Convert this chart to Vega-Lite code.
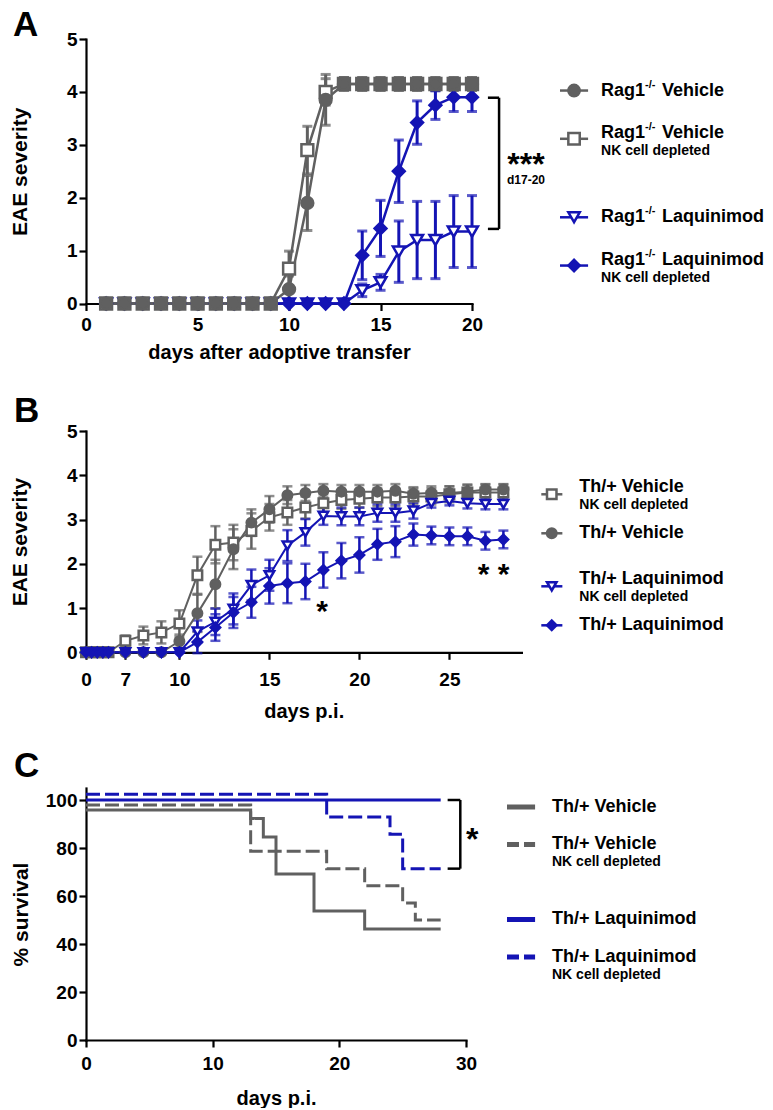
{
"$schema":"https://vega.github.io/schema/vega-lite/v6.json",
"autosize":{"type":"pad"},
"padding":{"left":9,"top":7,"right":5,"bottom":0},
"background":"white",
"config":{
 "font":"Liberation Sans",
 "view":{"stroke":null},
 "axis":{"grid":false,"domainColor":"#000","domainWidth":2.2,"domainCap":"square","tickColor":"#000","tickWidth":2.2,"tickSize":7,"labelFont":"Liberation Sans","labelFontSize":19,"labelFontWeight":"bold","labelColor":"#000","labelPadding":2,"labelFlush":false,"labelOverlap":false,"titleFont":"Liberation Sans","titleFontSize":20,"titleFontWeight":"bold","titleColor":"#000"},
 "axisY":{"titleFontSize":21},
 "title":{"font":"Liberation Sans","fontSize":35,"fontWeight":"bold","color":"#000","anchor":"start","frame":"group","baseline":"alphabetic","offset":0}
},
"datasets":{
 "a":[
  {"s":"laq","d":0,"v":0,"e":0},{"s":"laq","d":1,"v":0,"e":0},{"s":"laq","d":2,"v":0,"e":0},{"s":"laq","d":3,"v":0,"e":0},{"s":"laq","d":4,"v":0,"e":0},{"s":"laq","d":5,"v":0,"e":0},{"s":"laq","d":6,"v":0,"e":0},{"s":"laq","d":7,"v":0,"e":0},{"s":"laq","d":8,"v":0,"e":0},{"s":"laq","d":9,"v":0,"e":0},{"s":"laq","d":10,"v":0,"e":0},{"s":"laq","d":11,"v":0,"e":0},{"s":"laq","d":12,"v":0,"e":0},{"s":"laq","d":13,"v":0,"e":0},
  {"s":"laq","d":14,"v":0.25,"e":0.12},{"s":"laq","d":15,"v":0.4,"e":0.15},{"s":"laq","d":16,"v":0.98,"e":0.58},{"s":"laq","d":17,"v":1.2,"e":0.73},{"s":"laq","d":18,"v":1.2,"e":0.73},{"s":"laq","d":19,"v":1.36,"e":0.68},{"s":"laq","d":20,"v":1.36,"e":0.68},
  {"s":"laqnk","d":0,"v":0,"e":0},{"s":"laqnk","d":1,"v":0,"e":0},{"s":"laqnk","d":2,"v":0,"e":0},{"s":"laqnk","d":3,"v":0,"e":0},{"s":"laqnk","d":4,"v":0,"e":0},{"s":"laqnk","d":5,"v":0,"e":0},{"s":"laqnk","d":6,"v":0,"e":0},{"s":"laqnk","d":7,"v":0,"e":0},{"s":"laqnk","d":8,"v":0,"e":0},{"s":"laqnk","d":9,"v":0,"e":0},{"s":"laqnk","d":10,"v":0,"e":0},{"s":"laqnk","d":11,"v":0,"e":0},{"s":"laqnk","d":12,"v":0,"e":0},{"s":"laqnk","d":13,"v":0,"e":0},
  {"s":"laqnk","d":14,"v":0.91,"e":0.46},{"s":"laqnk","d":15,"v":1.42,"e":0.53},{"s":"laqnk","d":16,"v":2.5,"e":0.59},{"s":"laqnk","d":17,"v":3.42,"e":0.41},{"s":"laqnk","d":18,"v":3.75,"e":0.27},{"s":"laqnk","d":19,"v":3.9,"e":0.27},{"s":"laqnk","d":20,"v":3.9,"e":0.27},
  {"s":"vehnk","d":0,"v":0,"e":0},{"s":"vehnk","d":1,"v":0,"e":0},{"s":"vehnk","d":2,"v":0,"e":0},{"s":"vehnk","d":3,"v":0,"e":0},{"s":"vehnk","d":4,"v":0,"e":0},{"s":"vehnk","d":5,"v":0,"e":0},{"s":"vehnk","d":6,"v":0,"e":0},{"s":"vehnk","d":7,"v":0,"e":0},{"s":"vehnk","d":8,"v":0,"e":0},{"s":"vehnk","d":9,"v":0,"e":0},
  {"s":"vehnk","d":10,"v":0.66,"e":0.33},{"s":"vehnk","d":11,"v":2.9,"e":0.45},{"s":"vehnk","d":12,"v":4.0,"e":0.25},{"s":"vehnk","d":13,"v":4.15,"e":0.12},{"s":"vehnk","d":14,"v":4.15,"e":0.12},{"s":"vehnk","d":15,"v":4.15,"e":0.12},{"s":"vehnk","d":16,"v":4.15,"e":0.12},{"s":"vehnk","d":17,"v":4.15,"e":0.12},{"s":"vehnk","d":18,"v":4.15,"e":0.12},{"s":"vehnk","d":19,"v":4.15,"e":0.12},{"s":"vehnk","d":20,"v":4.15,"e":0.12},
  {"s":"veh","d":0,"v":0,"e":0},{"s":"veh","d":1,"v":0,"e":0},{"s":"veh","d":2,"v":0,"e":0},{"s":"veh","d":3,"v":0,"e":0},{"s":"veh","d":4,"v":0,"e":0},{"s":"veh","d":5,"v":0,"e":0},{"s":"veh","d":6,"v":0,"e":0},{"s":"veh","d":7,"v":0,"e":0},{"s":"veh","d":8,"v":0,"e":0},{"s":"veh","d":9,"v":0,"e":0},
  {"s":"veh","d":10,"v":0.27,"e":0.25},{"s":"veh","d":11,"v":1.9,"e":0.52},{"s":"veh","d":12,"v":3.85,"e":0.48},{"s":"veh","d":13,"v":4.15,"e":0.12},{"s":"veh","d":14,"v":4.15,"e":0.12},{"s":"veh","d":15,"v":4.15,"e":0.12},{"s":"veh","d":16,"v":4.15,"e":0.12},{"s":"veh","d":17,"v":4.15,"e":0.12},{"s":"veh","d":18,"v":4.15,"e":0.12},{"s":"veh","d":19,"v":4.15,"e":0.12},{"s":"veh","d":20,"v":4.15,"e":0.12}
 ],
 "b":[
  {"s":"vehnk","d":0,"v":0,"e":0},{"s":"vehnk","d":1,"v":0,"e":0},{"s":"vehnk","d":2,"v":0,"e":0},{"s":"vehnk","d":3,"v":0,"e":0},{"s":"vehnk","d":4,"v":0,"e":0},
  {"s":"vehnk","d":7,"v":0.26,"e":0.12},{"s":"vehnk","d":8,"v":0.38,"e":0.2},{"s":"vehnk","d":9,"v":0.45,"e":0.25},{"s":"vehnk","d":10,"v":0.65,"e":0.3},{"s":"vehnk","d":11,"v":1.74,"e":0.42},{"s":"vehnk","d":12,"v":2.43,"e":0.42},{"s":"vehnk","d":13,"v":2.48,"e":0.4},{"s":"vehnk","d":14,"v":2.74,"e":0.4},{"s":"vehnk","d":15,"v":3.05,"e":0.3},{"s":"vehnk","d":16,"v":3.16,"e":0.28},{"s":"vehnk","d":17,"v":3.27,"e":0.25},{"s":"vehnk","d":18,"v":3.37,"e":0.2},{"s":"vehnk","d":19,"v":3.44,"e":0.2},{"s":"vehnk","d":20,"v":3.47,"e":0.2},{"s":"vehnk","d":21,"v":3.5,"e":0.2},{"s":"vehnk","d":22,"v":3.5,"e":0.2},{"s":"vehnk","d":23,"v":3.52,"e":0.18},{"s":"vehnk","d":24,"v":3.52,"e":0.18},{"s":"vehnk","d":25,"v":3.57,"e":0.18},{"s":"vehnk","d":26,"v":3.61,"e":0.18},{"s":"vehnk","d":27,"v":3.61,"e":0.18},{"s":"vehnk","d":28,"v":3.61,"e":0.18},
  {"s":"veh","d":0,"v":0,"e":0},{"s":"veh","d":1,"v":0,"e":0},{"s":"veh","d":2,"v":0,"e":0},{"s":"veh","d":3,"v":0,"e":0},{"s":"veh","d":4,"v":0,"e":0},
  {"s":"veh","d":7,"v":0,"e":0},{"s":"veh","d":8,"v":0,"e":0},{"s":"veh","d":9,"v":0,"e":0},{"s":"veh","d":10,"v":0.25,"e":0.15},{"s":"veh","d":11,"v":0.88,"e":0.42},{"s":"veh","d":12,"v":1.54,"e":0.55},{"s":"veh","d":13,"v":2.33,"e":0.45},{"s":"veh","d":14,"v":2.93,"e":0.3},{"s":"veh","d":15,"v":3.23,"e":0.3},{"s":"veh","d":16,"v":3.55,"e":0.2},{"s":"veh","d":17,"v":3.6,"e":0.18},{"s":"veh","d":18,"v":3.65,"e":0.15},{"s":"veh","d":19,"v":3.63,"e":0.15},{"s":"veh","d":20,"v":3.63,"e":0.15},{"s":"veh","d":21,"v":3.63,"e":0.15},{"s":"veh","d":22,"v":3.65,"e":0.15},{"s":"veh","d":23,"v":3.58,"e":0.15},{"s":"veh","d":24,"v":3.6,"e":0.15},{"s":"veh","d":25,"v":3.6,"e":0.15},{"s":"veh","d":26,"v":3.63,"e":0.15},{"s":"veh","d":27,"v":3.68,"e":0.12},{"s":"veh","d":28,"v":3.68,"e":0.12},
  {"s":"laqnk","d":0,"v":0,"e":0},{"s":"laqnk","d":1,"v":0,"e":0},{"s":"laqnk","d":2,"v":0,"e":0},{"s":"laqnk","d":3,"v":0,"e":0},{"s":"laqnk","d":4,"v":0,"e":0},
  {"s":"laqnk","d":7,"v":0,"e":0},{"s":"laqnk","d":8,"v":0,"e":0},{"s":"laqnk","d":9,"v":0,"e":0},{"s":"laqnk","d":10,"v":0,"e":0},{"s":"laqnk","d":11,"v":0.47,"e":0.25},{"s":"laqnk","d":12,"v":0.69,"e":0.3},{"s":"laqnk","d":13,"v":0.98,"e":0.35},{"s":"laqnk","d":14,"v":1.52,"e":0.35},{"s":"laqnk","d":15,"v":1.74,"e":0.35},{"s":"laqnk","d":16,"v":2.41,"e":0.35},{"s":"laqnk","d":17,"v":2.71,"e":0.3},{"s":"laqnk","d":18,"v":3.08,"e":0.2},{"s":"laqnk","d":19,"v":3.07,"e":0.2},{"s":"laqnk","d":20,"v":3.07,"e":0.2},{"s":"laqnk","d":21,"v":3.15,"e":0.2},{"s":"laqnk","d":22,"v":3.15,"e":0.2},{"s":"laqnk","d":23,"v":3.2,"e":0.18},{"s":"laqnk","d":24,"v":3.37,"e":0.1},{"s":"laqnk","d":25,"v":3.42,"e":0.1},{"s":"laqnk","d":26,"v":3.37,"e":0.12},{"s":"laqnk","d":27,"v":3.35,"e":0.12},{"s":"laqnk","d":28,"v":3.35,"e":0.12},
  {"s":"laq","d":0,"v":0,"e":0},{"s":"laq","d":1,"v":0,"e":0},{"s":"laq","d":2,"v":0,"e":0},{"s":"laq","d":3,"v":0,"e":0},{"s":"laq","d":4,"v":0,"e":0},
  {"s":"laq","d":7,"v":0,"e":0},{"s":"laq","d":8,"v":0,"e":0},{"s":"laq","d":9,"v":0,"e":0},{"s":"laq","d":10,"v":0,"e":0},{"s":"laq","d":11,"v":0.23,"e":0.25},{"s":"laq","d":12,"v":0.56,"e":0.3},{"s":"laq","d":13,"v":0.9,"e":0.35},{"s":"laq","d":14,"v":1.13,"e":0.35},{"s":"laq","d":15,"v":1.5,"e":0.4},{"s":"laq","d":16,"v":1.56,"e":0.45},{"s":"laq","d":17,"v":1.6,"e":0.4},{"s":"laq","d":18,"v":1.86,"e":0.4},{"s":"laq","d":19,"v":2.07,"e":0.4},{"s":"laq","d":20,"v":2.2,"e":0.4},{"s":"laq","d":21,"v":2.44,"e":0.35},{"s":"laq","d":22,"v":2.5,"e":0.35},{"s":"laq","d":23,"v":2.66,"e":0.25},{"s":"laq","d":24,"v":2.64,"e":0.2},{"s":"laq","d":25,"v":2.62,"e":0.2},{"s":"laq","d":26,"v":2.62,"e":0.2},{"s":"laq","d":27,"v":2.52,"e":0.2},{"s":"laq","d":28,"v":2.55,"e":0.2}
 ],
 "c":[
  {"s":"veh","d":0,"v":95.8},{"s":"veh","d":13,"v":92.3},{"s":"veh","d":14,"v":84.6},{"s":"veh","d":15,"v":69.2},{"s":"veh","d":18,"v":53.8},{"s":"veh","d":22,"v":46.2},{"s":"veh","d":28,"v":46.2},
  {"s":"vehnk","d":0,"v":97.9},{"s":"vehnk","d":13,"v":78.6},{"s":"vehnk","d":19,"v":71.4},{"s":"vehnk","d":22,"v":64.3},{"s":"vehnk","d":25,"v":57.1},{"s":"vehnk","d":26,"v":50},{"s":"vehnk","d":28,"v":50},
  {"s":"laq","d":0,"v":100},{"s":"laq","d":28,"v":100},
  {"s":"laqnk","d":0,"v":102.4},{"s":"laqnk","d":19,"v":92.9},{"s":"laqnk","d":24,"v":85.7},{"s":"laqnk","d":25,"v":71.4},{"s":"laqnk","d":28,"v":71.4}
 ],
 "legA":[{"s":"veh","main":"Vehicle","sub":""},{"s":"vehnk","main":"Vehicle","sub":"NK cell depleted"},{"s":"laq","main":"Laquinimod","sub":""},{"s":"laqnk","main":"Laquinimod","sub":"NK cell depleted"}],
 "legB":[{"s":"vehnk","main":"Th/+ Vehicle","sub":"NK cell depleted"},{"s":"veh","main":"Th/+ Vehicle","sub":""},{"s":"laqnk","main":"Th/+ Laquinimod","sub":"NK cell depleted"},{"s":"laq","main":"Th/+ Laquinimod","sub":""}],
 "legC":[{"s":"veh","main":"Th/+ Vehicle","sub":""},{"s":"vehnk","main":"Th/+ Vehicle","sub":"NK cell depleted"},{"s":"laq","main":"Th/+ Laquinimod","sub":""},{"s":"laqnk","main":"Th/+ Laquinimod","sub":"NK cell depleted"}]
},
"resolve":{"scale":{"x":"independent","y":"independent","color":"independent","fill":"independent","stroke":"independent","shape":"independent","strokeDash":"independent"}},
"spacing":31,
"vconcat":[
 {"bounds":"flush","spacing":88,
  "resolve":{"scale":{"x":"independent","y":"independent","color":"independent","fill":"independent","stroke":"independent","shape":"independent","strokeDash":"independent"}},
  "hconcat":[
   {"title":{"text":"A","dx":-73,"dy":16.5},
    "width":386,"height":264.5,
    "layer":[
     {"data":{"name":"a"},"transform":[{"filter":"datum.e > 0"}],
      "mark":{"type":"errorbar","ticks":{"size":10,"thickness":3},"thickness":3},
      "encoding":{
       "x":{"field":"d","type":"quantitative","scale":{"domain":[-1.1,20],"nice":false,"zero":false},"axis":{"values":[-1.1,5,10,15,20],"labelExpr":"datum.value < 0 ? '0' : datum.label","title":"days after adoptive transfer","labelPadding":5,"titlePadding":8}},
       "y":{"field":"v","type":"quantitative","scale":{"domain":[0,5],"nice":false},"axis":{"values":[0,1,2,3,4,5],"title":"EAE severity","titlePadding":36}},
       "yError":{"field":"e"},
       "color":{"field":"s","type":"nominal","scale":{"domain":["veh","vehnk","laq","laqnk"],"range":["#606060","#606060","#1414b4","#1414b4"]},"legend":null}}},
     {"data":{"name":"a"},"mark":{"type":"line","strokeWidth":2.5},
      "encoding":{"x":{"field":"d","type":"quantitative"},"y":{"field":"v","type":"quantitative"},
       "color":{"field":"s","type":"nominal","scale":{"domain":["veh","vehnk","laq","laqnk"],"range":["#606060","#606060","#1414b4","#1414b4"]},"legend":null}}},
     {"data":{"name":"a"},"mark":{"type":"point","opacity":1,"fillOpacity":1,"strokeWidth":2.5,"size":140},
      "encoding":{"x":{"field":"d","type":"quantitative"},"y":{"field":"v","type":"quantitative"},
       "shape":{"field":"s","type":"nominal","scale":{"domain":["veh","vehnk","laq","laqnk"],"range":["circle","square","triangle-down","diamond"]},"legend":null},
       "fill":{"field":"s","type":"nominal","scale":{"domain":["veh","vehnk","laq","laqnk"],"range":["#606060","#ffffff","#ffffff","#1414b4"]},"legend":null},
       "stroke":{"field":"s","type":"nominal","scale":{"domain":["veh","vehnk","laq","laqnk"],"range":["#606060","#606060","#1414b4","#1414b4"]},"legend":null}}},
     {"data":{"values":[{}]},"mark":{"type":"rule","strokeWidth":2.5,"color":"#000"},
      "encoding":{"x":{"datum":21.48,"type":"quantitative"},"y":{"datum":1.41,"type":"quantitative"},"y2":{"datum":3.89}}},
     {"data":{"values":[{}]},"mark":{"type":"rule","strokeWidth":2.5,"color":"#000"},
      "encoding":{"x":{"datum":20.87,"type":"quantitative"},"x2":{"datum":21.48},"y":{"datum":3.89,"type":"quantitative"}}},
     {"data":{"values":[{}]},"mark":{"type":"rule","strokeWidth":2.5,"color":"#000"},
      "encoding":{"x":{"datum":20.87,"type":"quantitative"},"x2":{"datum":21.48},"y":{"datum":1.41,"type":"quantitative"}}},
     {"data":{"values":[{}]},"mark":{"type":"text","text":"***","font":"Liberation Sans","fontSize":32,"fontWeight":"bold","color":"#000","baseline":"middle","dy":8},
      "encoding":{"x":{"datum":22.95,"type":"quantitative"},"y":{"datum":2.76,"type":"quantitative"}}},
     {"data":{"values":[{}]},"mark":{"type":"text","text":"d17-20","font":"Liberation Sans","fontSize":12,"fontWeight":"bold","color":"#000","baseline":"middle"},
      "encoding":{"x":{"datum":22.95,"type":"quantitative"},"y":{"datum":2.33,"type":"quantitative"}}}
    ]},
   {"width":180,"height":253.5,"data":{"name":"legA"},
    "layer":[
     {"transform":[{"filter":"datum.sub == ''"}],"mark":{"type":"rule","strokeWidth":2.5},
      "encoding":{"x":{"datum":0,"type":"quantitative","scale":{"domain":[0,10],"nice":false},"axis":null},"x2":{"datum":1.56},
       "y":{"field":"s","type":"nominal","scale":{"type":"point","domain":["veh","vehnk","gap","laq","laqnk"],"padding":1,"align":0.61},"axis":null},
       "color":{"field":"s","type":"nominal","scale":{"domain":["veh","vehnk","laq","laqnk"],"range":["#606060","#606060","#1414b4","#1414b4"]},"legend":null}}},
     {"transform":[{"filter":"datum.sub != ''"}],"mark":{"type":"rule","strokeWidth":2.5,"yOffset":6},
      "encoding":{"x":{"datum":0,"type":"quantitative"},"x2":{"datum":1.56},"y":{"field":"s","type":"nominal"},
       "color":{"field":"s","type":"nominal","legend":null}}},
     {"transform":[{"filter":"datum.sub == ''"}],"mark":{"type":"point","opacity":1,"fillOpacity":1,"strokeWidth":2.5,"size":130},
      "encoding":{"x":{"datum":0.78,"type":"quantitative"},"y":{"field":"s","type":"nominal"},
       "shape":{"field":"s","type":"nominal","scale":{"domain":["veh","vehnk","laq","laqnk"],"range":["circle","square","triangle-down","diamond"]},"legend":null},
       "fill":{"field":"s","type":"nominal","scale":{"domain":["veh","vehnk","laq","laqnk"],"range":["#606060","#ffffff","#ffffff","#1414b4"]},"legend":null},
       "stroke":{"field":"s","type":"nominal","scale":{"domain":["veh","vehnk","laq","laqnk"],"range":["#606060","#606060","#1414b4","#1414b4"]},"legend":null}}},
     {"transform":[{"filter":"datum.sub != ''"}],"mark":{"type":"point","opacity":1,"fillOpacity":1,"strokeWidth":2.5,"size":130,"yOffset":6},
      "encoding":{"x":{"datum":0.78,"type":"quantitative"},"y":{"field":"s","type":"nominal"},
       "shape":{"field":"s","type":"nominal","legend":null},"fill":{"field":"s","type":"nominal","legend":null},"stroke":{"field":"s","type":"nominal","legend":null}}},
     {"mark":{"type":"text","align":"left","baseline":"middle","font":"Liberation Sans","fontSize":18,"fontWeight":"bold","color":"#000"},
      "encoding":{"x":{"datum":2.28,"type":"quantitative"},"y":{"field":"s","type":"nominal"},"text":{"value":"Rag1"}}},
     {"mark":{"type":"text","align":"left","baseline":"middle","font":"Liberation Sans","fontSize":11,"fontWeight":"bold","color":"#000","dx":44,"dy":-6},
      "encoding":{"x":{"datum":2.28,"type":"quantitative"},"y":{"field":"s","type":"nominal"},"text":{"value":"-/-"}}},
     {"mark":{"type":"text","align":"left","baseline":"middle","font":"Liberation Sans","fontSize":18,"fontWeight":"bold","color":"#000","dx":61},
      "encoding":{"x":{"datum":2.28,"type":"quantitative"},"y":{"field":"s","type":"nominal"},"text":{"field":"main"}}},
     {"transform":[{"filter":"datum.sub != ''"}],"mark":{"type":"text","align":"left","baseline":"middle","font":"Liberation Sans","fontSize":14,"fontWeight":"bold","color":"#000","dy":18},
      "encoding":{"x":{"datum":2.28,"type":"quantitative"},"y":{"field":"s","type":"nominal"},"text":{"field":"sub"}}}
    ]}
  ]},
 {"spacing":27,
  "resolve":{"scale":{"x":"independent","y":"independent","color":"independent","fill":"independent","stroke":"independent","shape":"independent","strokeDash":"independent"}},
  "vconcat":[
   {"bounds":"flush","spacing":19.3,
    "resolve":{"scale":{"x":"independent","y":"independent","color":"independent","fill":"independent","stroke":"independent","shape":"independent","strokeDash":"independent"}},
    "hconcat":[
     {"title":{"text":"B","dx":-72,"dy":11.3},
      "width":435.4,"height":221.3,
      "layer":[
       {"data":{"name":"b"},"transform":[{"filter":"datum.e > 0"}],
        "mark":{"type":"errorbar","ticks":{"size":10,"thickness":2.5},"thickness":2.5},
        "encoding":{
         "x":{"field":"d","type":"quantitative","scale":{"domain":[0,7,29],"range":[0,39.4,435.4],"nice":false,"zero":false},"axis":{"values":[0,7,10,15,20,25],"title":"days p.i.","labelPadding":11,"titlePadding":12}},
         "y":{"field":"v","type":"quantitative","scale":{"domain":[0,5],"nice":false},"axis":{"values":[0,1,2,3,4,5],"title":"EAE severity","titlePadding":36}},
         "yError":{"field":"e"},
         "color":{"field":"s","type":"nominal","scale":{"domain":["vehnk","veh","laqnk","laq"],"range":["#606060","#606060","#1414b4","#1414b4"]},"legend":null}}},
       {"data":{"name":"b"},"mark":{"type":"line","strokeWidth":2},
        "encoding":{"x":{"field":"d","type":"quantitative"},"y":{"field":"v","type":"quantitative"},
         "color":{"field":"s","type":"nominal","scale":{"domain":["vehnk","veh","laqnk","laq"],"range":["#606060","#606060","#1414b4","#1414b4"]},"legend":null}}},
       {"data":{"name":"b"},"mark":{"type":"point","opacity":1,"fillOpacity":1,"strokeWidth":2.5,"size":90},
        "encoding":{"x":{"field":"d","type":"quantitative"},"y":{"field":"v","type":"quantitative"},
         "shape":{"field":"s","type":"nominal","scale":{"domain":["vehnk","veh","laqnk","laq"],"range":["square","circle","triangle-down","diamond"]},"legend":null},
         "fill":{"field":"s","type":"nominal","scale":{"domain":["vehnk","veh","laqnk","laq"],"range":["#ffffff","#606060","#ffffff","#1414b4"]},"legend":null},
         "stroke":{"field":"s","type":"nominal","scale":{"domain":["vehnk","veh","laqnk","laq"],"range":["#606060","#606060","#1414b4","#1414b4"]},"legend":null}}},
       {"data":{"values":[{}]},"mark":{"type":"text","text":"*","font":"Liberation Sans","fontSize":30,"fontWeight":"bold","color":"#000","baseline":"middle","dy":8},
        "encoding":{"x":{"datum":17.93,"type":"quantitative"},"y":{"datum":1.09,"type":"quantitative"}}},
       {"data":{"values":[{}]},"mark":{"type":"text","text":"* *","font":"Liberation Sans","fontSize":30,"fontWeight":"bold","color":"#000","baseline":"middle","dy":8},
        "encoding":{"x":{"datum":27.45,"type":"quantitative"},"y":{"datum":1.92,"type":"quantitative"}}}
      ]},
     {"width":180,"height":221.3,"data":{"name":"legB"},
      "layer":[
       {"transform":[{"filter":"datum.sub == ''"}],"mark":{"type":"rule","strokeWidth":2.5},
        "encoding":{"x":{"datum":0,"type":"quantitative","scale":{"domain":[0,10],"nice":false},"axis":null},"x2":{"datum":1.17},
         "y":{"field":"s","type":"nominal","scale":{"type":"point","domain":["vehnk","veh","laqnk","laq"],"padding":0.905,"align":0.676},"axis":null},
         "color":{"field":"s","type":"nominal","scale":{"domain":["vehnk","veh","laqnk","laq"],"range":["#606060","#606060","#1414b4","#1414b4"]},"legend":null}}},
       {"transform":[{"filter":"datum.sub != ''"}],"mark":{"type":"rule","strokeWidth":2.5,"yOffset":7},
        "encoding":{"x":{"datum":0,"type":"quantitative"},"x2":{"datum":1.17},"y":{"field":"s","type":"nominal"},"color":{"field":"s","type":"nominal","legend":null}}},
       {"transform":[{"filter":"datum.sub == ''"}],"mark":{"type":"point","opacity":1,"fillOpacity":1,"strokeWidth":2.5,"size":90},
        "encoding":{"x":{"datum":0.58,"type":"quantitative"},"y":{"field":"s","type":"nominal"},
         "shape":{"field":"s","type":"nominal","scale":{"domain":["vehnk","veh","laqnk","laq"],"range":["square","circle","triangle-down","diamond"]},"legend":null},
         "fill":{"field":"s","type":"nominal","scale":{"domain":["vehnk","veh","laqnk","laq"],"range":["#ffffff","#606060","#ffffff","#1414b4"]},"legend":null},
         "stroke":{"field":"s","type":"nominal","scale":{"domain":["vehnk","veh","laqnk","laq"],"range":["#606060","#606060","#1414b4","#1414b4"]},"legend":null}}},
       {"transform":[{"filter":"datum.sub != ''"}],"mark":{"type":"point","opacity":1,"fillOpacity":1,"strokeWidth":2.5,"size":90,"yOffset":7},
        "encoding":{"x":{"datum":0.58,"type":"quantitative"},"y":{"field":"s","type":"nominal"},
         "shape":{"field":"s","type":"nominal","legend":null},"fill":{"field":"s","type":"nominal","legend":null},"stroke":{"field":"s","type":"nominal","legend":null}}},
       {"mark":{"type":"text","align":"left","baseline":"middle","font":"Liberation Sans","fontSize":18,"fontWeight":"bold","color":"#000"},
        "encoding":{"x":{"datum":2.11,"type":"quantitative"},"y":{"field":"s","type":"nominal"},"text":{"field":"main"}}},
       {"transform":[{"filter":"datum.sub != ''"}],"mark":{"type":"text","align":"left","baseline":"middle","font":"Liberation Sans","fontSize":14,"fontWeight":"bold","color":"#000","dy":18},
        "encoding":{"x":{"datum":2.11,"type":"quantitative"},"y":{"field":"s","type":"nominal"},"text":{"field":"sub"}}}
      ]}
    ]},
   {"bounds":"flush","spacing":41,
    "resolve":{"scale":{"x":"independent","y":"independent","color":"independent","fill":"independent","stroke":"independent","shape":"independent","strokeDash":"independent"}},
    "hconcat":[
     {"title":{"text":"C","dx":-72,"dy":0},
      "width":380,"height":252,
      "layer":[
       {"data":{"name":"c"},"mark":{"type":"line","interpolate":"step-after","strokeWidth":3},
        "encoding":{
         "x":{"field":"d","type":"quantitative","scale":{"domain":[0,30],"nice":false},"axis":{"values":[0,10,20,30],"title":"days p.i.","labelPadding":7,"titlePadding":15}},
         "y":{"field":"v","type":"quantitative","scale":{"domain":[0,105],"nice":false},"axis":{"values":[0,20,40,60,80,100],"title":"% survival","titlePadding":14}},
         "color":{"field":"s","type":"nominal","scale":{"domain":["veh","vehnk","laq","laqnk"],"range":["#606060","#606060","#1414b4","#1414b4"]},"legend":null},
         "strokeDash":{"field":"s","type":"nominal","scale":{"domain":["veh","vehnk","laq","laqnk"],"range":[[1,0],[14,5],[1,0],[14,5]]},"legend":null}}},
       {"data":{"values":[{}]},"mark":{"type":"rule","strokeWidth":2.5,"color":"#000"},
        "encoding":{"x":{"datum":29.55,"type":"quantitative"},"y":{"datum":71.4,"type":"quantitative"},"y2":{"datum":100}}},
       {"data":{"values":[{}]},"mark":{"type":"rule","strokeWidth":2.5,"color":"#000"},
        "encoding":{"x":{"datum":28.55,"type":"quantitative"},"x2":{"datum":29.55},"y":{"datum":100,"type":"quantitative"}}},
       {"data":{"values":[{}]},"mark":{"type":"rule","strokeWidth":2.5,"color":"#000"},
        "encoding":{"x":{"datum":28.55,"type":"quantitative"},"x2":{"datum":29.55},"y":{"datum":71.4,"type":"quantitative"}}},
       {"data":{"values":[{}]},"mark":{"type":"text","text":"*","font":"Liberation Sans","fontSize":32,"fontWeight":"bold","color":"#000","baseline":"middle","dy":8},
        "encoding":{"x":{"datum":30.5,"type":"quantitative"},"y":{"datum":86.5,"type":"quantitative"}}}
      ]},
     {"width":180,"height":225,"data":{"name":"legC"},
      "layer":[
       {"mark":{"type":"rule","strokeWidth":5},
        "encoding":{"x":{"datum":0,"type":"quantitative","scale":{"domain":[0,10],"nice":false},"axis":null},"x2":{"datum":1.56},
         "y":{"field":"s","type":"nominal","scale":{"type":"point","domain":["veh","vehnk","gap","laq","laqnk"],"padding":1,"align":0.253},"axis":null},
         "color":{"field":"s","type":"nominal","scale":{"domain":["veh","vehnk","laq","laqnk"],"range":["#606060","#606060","#1414b4","#1414b4"]},"legend":null},
         "strokeDash":{"field":"s","type":"nominal","scale":{"domain":["veh","vehnk","laq","laqnk"],"range":[[1,0],[12,5],[1,0],[12,5]]},"legend":null}}},
       {"mark":{"type":"text","align":"left","baseline":"middle","font":"Liberation Sans","fontSize":18,"fontWeight":"bold","color":"#000"},
        "encoding":{"x":{"datum":2.5,"type":"quantitative"},"y":{"field":"s","type":"nominal"},"text":{"field":"main"}}},
       {"transform":[{"filter":"datum.sub != ''"}],"mark":{"type":"text","align":"left","baseline":"middle","font":"Liberation Sans","fontSize":14,"fontWeight":"bold","color":"#000","dy":18},
        "encoding":{"x":{"datum":2.5,"type":"quantitative"},"y":{"field":"s","type":"nominal"},"text":{"field":"sub"}}}
      ]}
    ]}
  ]}
]
}
